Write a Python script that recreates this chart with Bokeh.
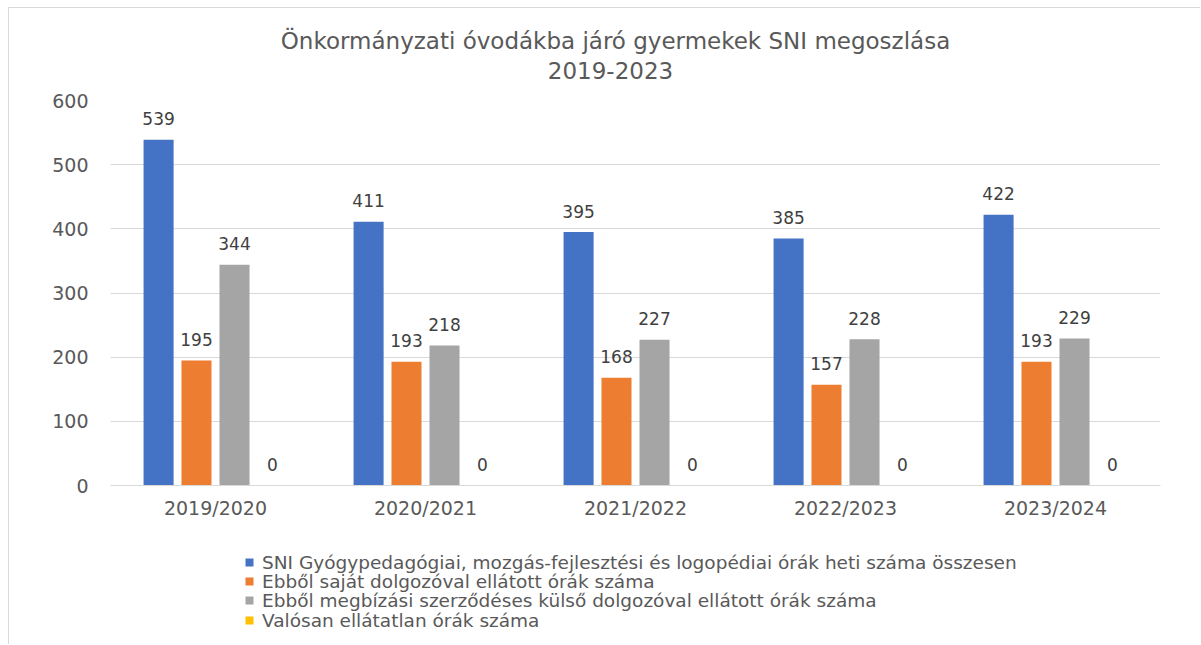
from bokeh.plotting import figure
from bokeh.models import ColumnDataSource, Legend, LegendItem, FactorRange, Range1d, Label
from bokeh.layouts import column
from bokeh.transform import dodge
from bokeh.core.properties import value
from bokeh.embed import file_html
from bokeh.resources import INLINE

years = ["2019/2020", "2020/2021", "2021/2022", "2022/2023", "2023/2024"]
total = [539, 411, 395, 385, 422]
own = [195, 193, 168, 157, 193]
external = [344, 218, 227, 228, 229]
unserved = [0, 0, 0, 0, 0]
series_names = [
    "SNI Gyógypedagógiai, mozgás-fejlesztési és logopédiai órák heti száma összesen",
    "Ebből saját dolgozóval ellátott órák száma",
    "Ebből megbízási szerződéses külső dolgozóval ellátott órák száma",
    "Valósan ellátatlan órák száma",
]
colors = ["#4472C4", "#ED7D31", "#A5A5A5", "#FFC000"]
title_lines = ["Önkormányzati óvodákba járó gyermekek SNI megoszlása", "2019-2023"]
yticks = [0, 100, 200, 300, 400, 500, 600]

FONT = "DejaVu Sans"
TXT = "#595959"
W = 1191
H0, H1, H2 = 82, 448, 106


def strip(h):
    f = figure(width=W, height=h, x_range=Range1d(0, 1050), y_range=Range1d(0, h),
               output_backend="svg", toolbar_location=None,
               x_axis_type=None, y_axis_type=None,
               min_border_left=0, min_border_right=0, min_border_top=0, min_border_bottom=0)
    f.outline_line_color = None
    f.xgrid.visible = False
    f.ygrid.visible = False
    f.background_fill_color = "white"
    f.border_fill_color = "white"
    return f


# title strip
p0 = strip(H0)
for t, tx, ty in zip(title_lines, [505, 500], [50, 20]):
    p0.add_layout(Label(x=tx, y=ty, text=t, text_align="center", text_baseline="middle",
                        text_font=FONT, text_font_size="23px", text_color=TXT))

src = ColumnDataSource(dict(years=years, total=total, own=own, external=external,
                            unserved=unserved,
                            total_l=[str(v) for v in total], own_l=[str(v) for v in own],
                            external_l=[str(v) for v in external],
                            unserved_l=[str(v) for v in unserved]))

p = figure(width=W, height=H1, x_range=FactorRange(*years), y_range=(0, 600),
           output_backend="svg", toolbar_location=None,
           min_border_left=101, min_border_right=40, min_border_top=10,
           min_border_bottom=53)
p.x_range.range_padding = 0
p.x_range.group_padding = 0
p.outline_line_color = None
p.background_fill_color = "white"
p.border_fill_color = "white"

offsets = [-0.271, -0.0905, 0.0905, 0.271]
cols = ["total", "own", "external", "unserved"]
for col, off, c in zip(cols, offsets, colors):
    p.vbar(x=dodge("years", off, range=p.x_range), top=col, width=0.143,
           source=src, fill_color=c, line_color=None)
    p.text(x=dodge("years", off, range=p.x_range), y=col, text=col + "_l", source=src,
           text_align="center", text_baseline="middle", y_offset=-21,
           text_font=value(FONT), text_font_size="17px", text_color="#404040")

p.xgrid.grid_line_color = None
p.ygrid.grid_line_color = "#d9d9d9"
p.ygrid.grid_line_width = 1
p.yaxis.ticker = yticks
p.yaxis.axis_line_color = None
p.yaxis.major_tick_line_color = None
p.yaxis.minor_tick_line_color = None
p.yaxis.major_label_text_font = FONT
p.yaxis.major_label_text_font_size = "19px"
p.yaxis.major_label_text_color = TXT
p.yaxis.major_label_standoff = 16

p.xaxis.axis_line_color = "#d9d9d9"
p.xaxis.axis_line_width = 1
p.xaxis.major_tick_line_color = None
p.xaxis.minor_tick_line_color = None
p.xaxis.major_label_text_font = FONT
p.xaxis.major_label_text_font_size = "19px"
p.xaxis.major_label_text_color = TXT
p.xaxis.major_label_standoff = 5

# legend strip below the chart (hidden proxies of the same series)
p2 = figure(width=W, height=H2, x_range=FactorRange(*years), y_range=Range1d(0, 600),
            output_backend="svg", toolbar_location=None,
            x_axis_type=None, y_axis_type=None,
            min_border_left=0, min_border_right=0, min_border_top=0, min_border_bottom=0)
p2.outline_line_color = None
p2.xgrid.visible = False
p2.ygrid.visible = False
p2.background_fill_color = "white"
p2.border_fill_color = "white"

row_y = [71.5, 52.5, 33.5, 13.5]
for name, col, off, c, ry in zip(series_names, cols, offsets, colors, row_y):
    r = p2.vbar(x=dodge("years", off, range=p2.x_range), top=col, width=0.143,
                source=src, fill_color=c, line_color=None, visible=False)
    lg = Legend(items=[LegendItem(label=name, renderers=[r])], location=(134, ry),
                orientation="vertical", glyph_width=10, glyph_height=10, label_height=19,
                spacing=0, padding=0, margin=0, label_standoff=8,
                label_text_font=FONT, label_text_font_size="18.5px", label_text_color=TXT,
                border_line_color=None, background_fill_alpha=0,
                inactive_fill_alpha=0)
    p2.add_layout(lg, "center")

layout = column(p0, p, p2, spacing=0,
                styles={"margin-left": "8px", "margin-top": "7px",
                        "border-left": "1px solid #d9d9d9", "border-top": "1px solid #d9d9d9"})

open("out.html", "w").write(file_html(layout, INLINE))
